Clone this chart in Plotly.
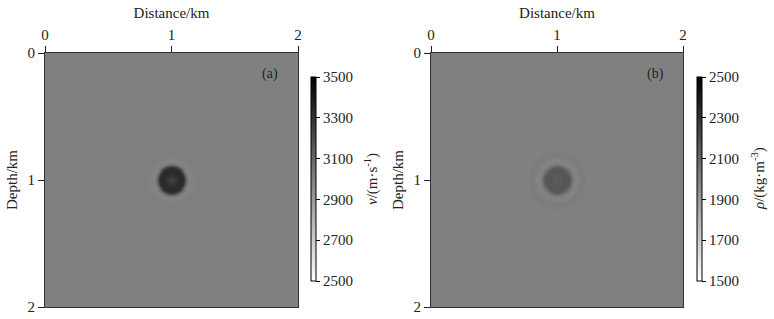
import numpy as np
import plotly.graph_objects as go

# ---- data ----
# radial profiles of the anomaly (distance from centre at 1 km, 1 km)
radius_km_a = [0.00, 0.02, 0.04, 0.07, 0.09, 0.105, 0.12, 0.14, 0.17, 0.20, 0.24, 0.30, 0.40, 0.50, 0.56, 0.60, 0.64, 0.70, 3.0]
velocity = [3250, 3270, 3310, 3340, 3330, 3230, 3060, 2982, 2992, 3004, 2998, 3000, 3000, 3000, 3000, 2994, 3000, 3000, 3000]

radius_km_b = [0.00, 0.03, 0.06, 0.09, 0.105, 0.12, 0.14, 0.16, 0.19, 0.215, 0.24, 0.28, 0.35, 0.45, 0.48, 0.51, 0.60, 0.63, 0.66, 3.0]
density = [2140, 2150, 2165, 2160, 2110, 2030, 1984, 1986, 2010, 2012, 1997, 2000, 2000, 2000, 2003, 2000, 2000, 1997, 2000, 2000]

centre = (1.0, 1.0)
axis_ticks = [0, 1, 2]
v_ticks = [2500, 2700, 2900, 3100, 3300, 3500]
rho_ticks = [1500, 1700, 1900, 2100, 2300, 2500]
panel_labels = ["(a)", "(b)"]

# ---- grid ----
xs = np.linspace(0, 2, 241)
ys = np.linspace(0, 2, 241)
X, Y = np.meshgrid(xs, ys)
R = np.hypot(X - centre[0], Y - centre[1])
Z_a = np.interp(R, radius_km_a, velocity)
Z_b = np.interp(R, radius_km_b, density)

FONT = "Liberation Serif"
TXT = "#222"
W, H = 774, 319
greys = [[0, "rgb(255,255,255)"], [1, "rgb(0,0,0)"]]

def px(xp):
    return xp / W

def py(yp):
    return 1 - yp / H

fig = go.Figure()

cb_common = dict(thickness=5, thicknessmode="pixels", len=(281 - 77) / H, lenmode="fraction",
                 y=py(179), yanchor="middle", xanchor="left", xpad=0, ypad=0,
                 outlinewidth=1, outlinecolor="black", ticks="outside", ticklen=4,
                 tickcolor="black", tickfont=dict(family=FONT, size=15, color=TXT))

fig.add_trace(go.Heatmap(x=xs, y=ys, z=Z_a, colorscale=greys, zmin=2500, zmax=3500,
                         xaxis="x", yaxis="y", zsmooth="best", hoverinfo="skip",
                         colorbar=dict(x=px(311), tickvals=v_ticks, **cb_common)))
fig.add_trace(go.Heatmap(x=xs, y=ys, z=Z_b, colorscale=greys, zmin=1500, zmax=2500,
                         xaxis="x2", yaxis="y2", zsmooth="best", hoverinfo="skip",
                         colorbar=dict(x=px(697), tickvals=rho_ticks, **cb_common)))

ax_common = dict(range=[0, 2], tickvals=axis_ticks, ticks="outside", ticklen=6, tickcolor=TXT,
                 showline=True, linecolor="#333", linewidth=1, mirror=True, showgrid=False,
                 zeroline=False, automargin=False, tickfont=dict(family=FONT, size=15, color=TXT))

def title(t, s):
    return dict(text=t, font=dict(family=FONT, size=15, color=TXT), standoff=s)

fig.update_layout(
    width=W, height=H, margin=dict(l=0, r=0, t=0, b=0, autoexpand=False),
    paper_bgcolor="white", plot_bgcolor="white",
    xaxis=dict(domain=[px(45), px(298)], side="top", anchor="y", title=title("Distance/km", 4), **ax_common),
    yaxis=dict(domain=[py(307), py(53)], anchor="x", title=title("Depth/km", 6), **{**ax_common, "range": [2, 0]}),
    xaxis2=dict(domain=[px(431), px(683)], side="top", anchor="y2", title=title("Distance/km", 4), **ax_common),
    yaxis2=dict(domain=[py(307), py(53)], anchor="x2", title=title("Depth/km", 6), **{**ax_common, "range": [2, 0]}),
)

annos = [
    dict(x=px(270), y=py(74), text=panel_labels[0]),
    dict(x=px(655), y=py(74), text=panel_labels[1]),
]
for a in annos:
    fig.add_annotation(xref="paper", yref="paper", showarrow=False, xanchor="center", yanchor="middle",
                       font=dict(family=FONT, size=14, color=TXT), **a)

fig.add_annotation(xref="paper", yref="paper", x=px(371), y=py(179), showarrow=False,
                   text="<i>v</i>/(m·s<sup>-1</sup>)", textangle=-90, xanchor="center", yanchor="middle",
                   font=dict(family=FONT, size=15, color=TXT))
fig.add_annotation(xref="paper", yref="paper", x=px(758), y=py(179), showarrow=False,
                   text="<i>ρ</i>/(kg·m<sup>-3</sup>)", textangle=-90, xanchor="center", yanchor="middle",
                   font=dict(family=FONT, size=15, color=TXT))

fig.write_html("out.html", config={"displayModeBar": False},
               post_script="document.body.style.margin='0';document.body.style.overflow='hidden';")
